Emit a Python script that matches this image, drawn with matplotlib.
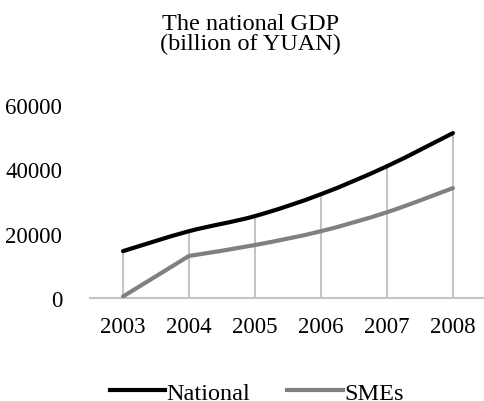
import matplotlib.pyplot as plt
import numpy as np
from matplotlib.path import Path
from matplotlib.patches import PathPatch
from matplotlib.lines import Line2D

years = ['2003', '2004', '2005', '2006', '2007', '2008']
national = [14600, 20800, 25500, 32300, 41000, 51300]
smes = [500, 13100, 16500, 20800, 26700, 34200]

plt.rcParams['font.family'] = ['Liberation Serif', 'DejaVu Serif']


def smooth_path(xs, ys, corners=()):
    # smoothed line: cubic bezier through the points, sharp at "corners"
    pts = np.column_stack([xs, ys]).astype(float)
    n = len(pts)

    def tangents(i):
        # (incoming, outgoing) tangent at point i
        if i in corners:
            t_in = pts[i] - pts[i - 1] if i > 0 else pts[i + 1] - pts[i]
            t_out = pts[i + 1] - pts[i] if i < n - 1 else t_in
            return t_in / 3.0, t_out / 3.0
        p0 = pts[i - 1] if i > 0 else pts[i]
        p2 = pts[i + 1] if i < n - 1 else pts[i]
        t = (p2 - p0) / 6.0
        return t, t

    verts = [pts[0]]
    codes = [Path.MOVETO]
    for i in range(n - 1):
        c1 = pts[i] + tangents(i)[1]
        c2 = pts[i + 1] - tangents(i + 1)[0]
        verts += [c1, c2, pts[i + 1]]
        codes += [Path.CURVE4] * 3
    return Path(verts, codes)


fig = plt.figure(figsize=(4.84, 4.02), dpi=100)
ax = fig.add_axes([0.186, 0.256, 0.818, 0.480])

x = np.arange(len(years))
top = np.maximum(national, smes)
ax.vlines(x, 0, top, color='#c4c4c4', lw=1.5, zorder=1)

ax.add_patch(PathPatch(smooth_path(x, smes, corners=(1,)), fill=False,
                       edgecolor='#808080', lw=3, capstyle='round',
                       joinstyle='round', zorder=3))
ax.add_patch(PathPatch(smooth_path(x, national), fill=False, edgecolor='black',
                       lw=3, capstyle='round', zorder=4))

ax.set_xlim(-0.5, 5.5)
ax.set_ylim(0, 60000)
ax.set_xticks(x, years)
ax.set_yticks([0, 20000, 40000, 60000])
ax.tick_params(length=0, labelsize=16.5, colors='black')
ax.tick_params(axis='x', pad=13)
ax.tick_params(axis='y', pad=20)
for s in ['top', 'left', 'right']:
    ax.spines[s].set_visible(False)
ax.spines['bottom'].set_color('#c4c4c4')
ax.spines['bottom'].set_linewidth(1.5)

fig.text(0.517, 0.965, 'The national GDP\n(billion of YUAN)', ha='center', va='top',
         fontsize=17.5, linespacing=0.92)

handles = [Line2D([], [], color='black', lw=3),
           Line2D([], [], color='#808080', lw=3)]
fig.legend(handles, ['National', 'SMEs'], loc='center', bbox_to_anchor=(0.53, 0.02),
           ncol=2, frameon=False, fontsize=17.5, handlelength=2.3, handletextpad=0.05,
           columnspacing=1.5, borderpad=0)

fig.savefig('out.png', dpi=100)
